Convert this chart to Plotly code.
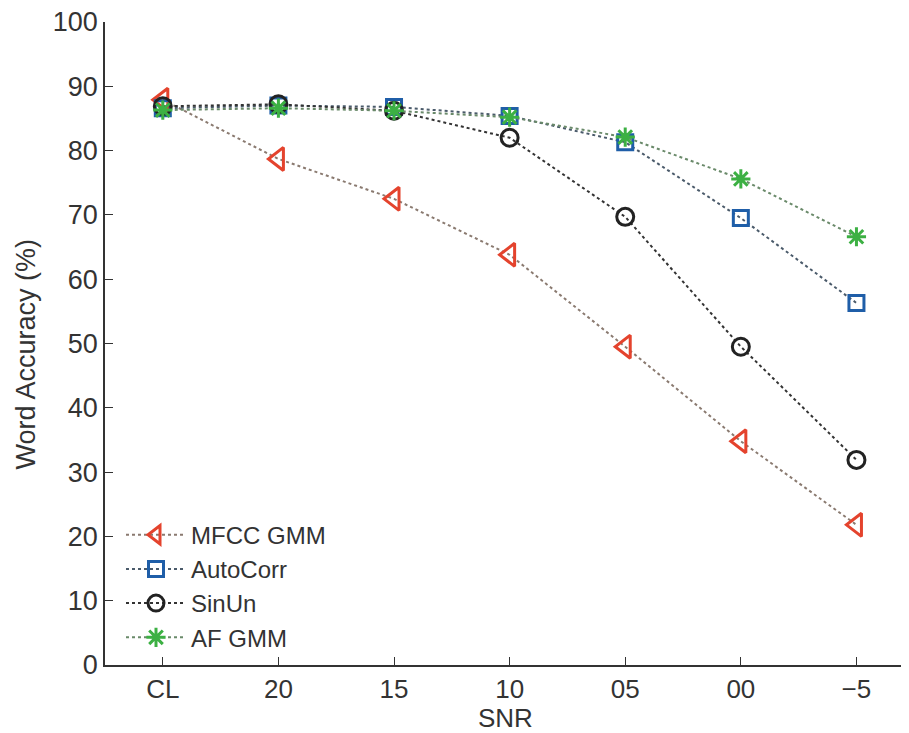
import plotly.graph_objects as go

snr_labels = ["CL", "20", "15", "10", "05", "00", "\u22125"]
mfcc_gmm = [87.9, 78.7, 72.5, 63.8, 49.5, 34.8, 21.8]
autocorr = [86.6, 87.0, 86.8, 85.4, 81.3, 69.5, 56.3]
sinun = [86.9, 87.2, 86.2, 82.0, 69.7, 49.5, 31.9]
af_gmm = [86.3, 86.6, 86.2, 85.2, 82.1, 75.6, 66.6]

x_idx = list(range(len(snr_labels)))

series = [
    ("MFCC GMM", mfcc_gmm, "triangle-left-open", "#e4432d", 20, "#8a7a70"),
    ("AutoCorr", autocorr, "square-open", "#1f5ea8", 15, "#4a5a6a"),
    ("SinUn", sinun, "circle-open", "#222222", 17, "#333333"),
    ("AF GMM", af_gmm, "asterisk-open", "#3cb043", 16, "#6a8a6a"),
]

fig = go.Figure()
for name, vals, sym, col, size, lcol in series:
    fig.add_trace(go.Scatter(
        x=x_idx, y=vals, name=name, mode="lines+markers",
        line=dict(color=lcol, width=2, dash="dot"),
        marker=dict(symbol=sym, size=size, color=col,
                    line=dict(color=col, width=3)),
    ))

FONT = "Liberation Sans, Arial, sans-serif"
fig.update_layout(
    width=901, height=725,
    margin=dict(l=97, r=4, t=14, b=68),
    paper_bgcolor="white", plot_bgcolor="white",
    font=dict(family=FONT, color="#333333"),
    showlegend=True,
    legend=dict(x=0.02, y=0.237, xanchor="left", yanchor="top",
                bgcolor="rgba(0,0,0,0)", font=dict(size=24, color="#333333"),
                itemwidth=60, tracegroupgap=0),
    xaxis=dict(
        tickmode="array", tickvals=x_idx, ticktext=snr_labels,
        range=[-0.5, 6.42], showline=True, linecolor="#333333", linewidth=1.5,
        ticks="inside", ticklen=8, tickcolor="#333333", mirror=False,
        showgrid=False, zeroline=False, tickfont=dict(size=26),
        automargin=False, ticklabeloverflow="allow",
    ),
    yaxis=dict(
        range=[0, 100], tickmode="array", tickvals=list(range(0, 101, 10)),
        showline=True, linecolor="#333333", linewidth=1.5,
        ticks="inside", ticklen=8, tickcolor="#333333",
        showgrid=False, zeroline=False, tickfont=dict(size=27),
        automargin=False, ticklabeloverflow="allow",
    ),
    annotations=[
        dict(text="SNR", xref="paper", yref="paper", x=0.5, y=0,
             xanchor="center", yanchor="middle", yshift=-53,
             showarrow=False, font=dict(size=26, family=FONT, color="#333333")),
        dict(text="Word Accuracy (%)", xref="paper", yref="paper", x=0, y=0.5,
             xanchor="center", yanchor="middle", xshift=-80, yshift=-11,
             textangle=-90, showarrow=False,
             font=dict(size=27, family=FONT, color="#333333")),
    ],
)

fig.write_html("out.html")
